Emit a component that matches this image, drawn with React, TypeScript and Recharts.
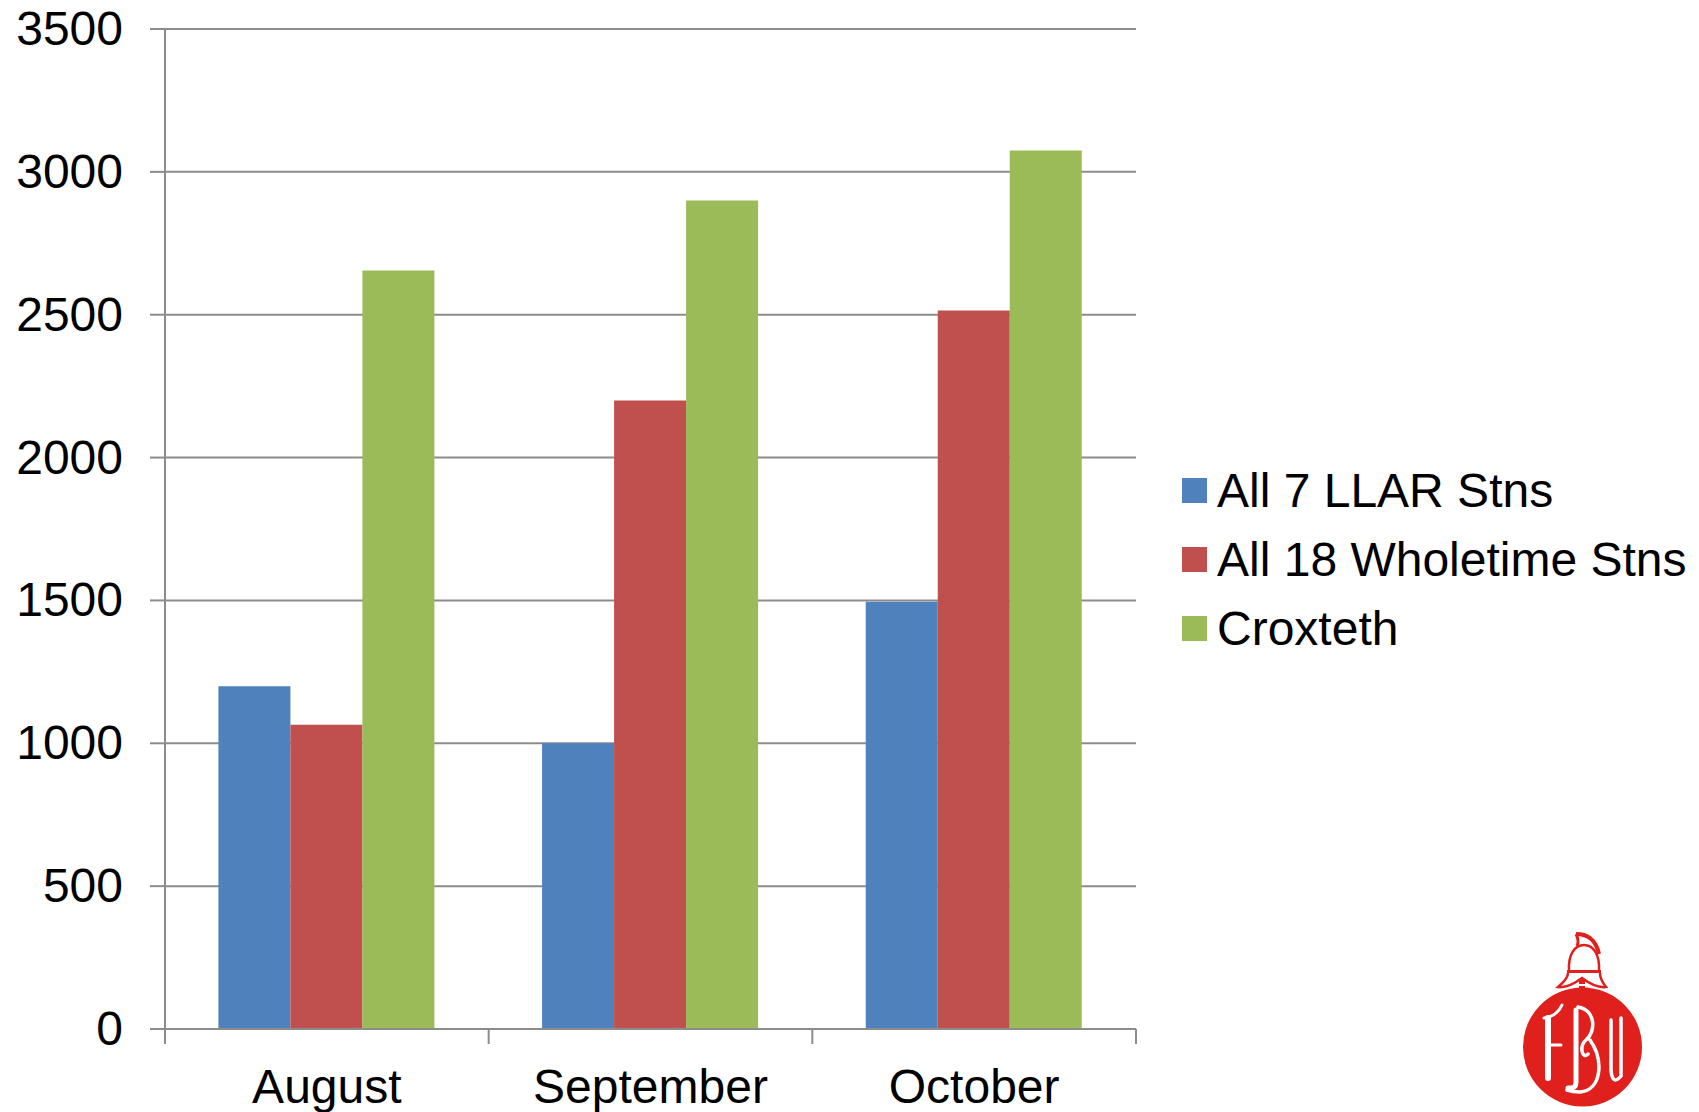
import React from "react";
import { BarChart, Bar, XAxis, YAxis, CartesianGrid, Legend } from "recharts";

const categories = ["August", "September", "October"];
const llar = [1200, 1000, 1495];
const wholetime = [1065, 2200, 2515];
const croxteth = [2655, 2900, 3075];
const yTicks = [0, 500, 1000, 1500, 2000, 2500, 3000, 3500];
const seriesNames = ["All 7 LLAR Stns", "All 18 Wholetime Stns", "Croxteth"];
const seriesColors = ["#4f81bd", "#c0504d", "#9bbb59"];

const rows = categories.map((month, i) => ({
  month,
  llar: llar[i],
  wholetime: wholetime[i],
  croxteth: croxteth[i],
}));

const FONT = '"Liberation Sans", Arial, sans-serif';
const GREY = "#8c8c8c";

function MonthTick(props: any) {
  const { x, y, payload, width, visibleTicksCount, index } = props;
  const band = width / visibleTicksCount;
  const last = index === visibleTicksCount - 1;
  return (
    <g>
      <line x1={x - band / 2} x2={x - band / 2} y1={y} y2={y + 15} stroke={GREY} strokeWidth={2} />
      {last && <line x1={x + band / 2} x2={x + band / 2} y1={y} y2={y + 15} stroke={GREY} strokeWidth={2} />}
      <text x={x} y={y + 74} textAnchor="middle" fontFamily={FONT} fontSize={48} fill="#000">
        {payload.value}
      </text>
    </g>
  );
}

function LegendBlock() {
  return (
    <div style={{ position: "relative", width: 517, height: 210 }}>
      {seriesNames.map((name, i) => (
        <div
          key={name}
          style={{ position: "absolute", left: 0, top: i * 69, height: 69, display: "flex", alignItems: "center", whiteSpace: "nowrap" }}
        >
          <span style={{ display: "inline-block", width: 25, height: 25, background: seriesColors[i], marginRight: 10 }} />
          <span style={{ fontFamily: FONT, fontSize: 48, color: "#000", lineHeight: "69px" }}>{name}</span>
        </div>
      ))}
    </div>
  );
}

function Logo() {
  const red = "#e0201c";
  return (
    <svg width={200} height={202} viewBox="0 0 200 202" style={{ position: "absolute", left: 1480, top: 910 }}>
      <path d="M96 24 C108 24 116 30 119 44" fill="none" stroke={red} strokeWidth={4} />
      <path d="M96 24 C98 28 99 32 97 36" fill="none" stroke={red} strokeWidth={3} />
      <path d="M89 61 C88 44 95 35 104 35 C113 35 120 44 119 61" fill="none" stroke={red} strokeWidth={2.5} />
      <rect x={87} y={60} width={34} height={3} fill={red} />
      <path
        d="M88 63 C88 68 84 72 78 77 C86 78 94 74 102 68 C110 74 118 78 126 77 C122 72 120 68 120 63"
        fill="#fff"
        stroke={red}
        strokeWidth={2.5}
      />
      <rect x={99} y={69} width={6} height={5} fill={red} />
      <rect x={99} y={76} width={6} height={5} fill={red} />
      <rect x={99} y={83} width={6} height={6} fill={red} />
      <circle cx={102.5} cy={137} r={59.5} fill={red} />
      <g fill="none" stroke="#fff" strokeLinecap="round">
        <path d="M68 168 L68 108" strokeWidth={6} />
        <path d="M64 108 C72 107 78 104 82 95" strokeWidth={3} />
        <path d="M68 135 L81 135" strokeWidth={3} />
        <path d="M88 178 L91 178 C94 178 96 176 96 172 L96 100" strokeWidth={5} />
        <path d="M98 97 C116 100 116 122 106 130 C99 136 102 150 108 144 M110 130 C124 150 122 180 100 182 C94 182 90 181 87 180" strokeWidth={3.5} />
        <path d="M131 110 L131 160 C132 172 136 172 141 166 L141 108" strokeWidth={3.5} />
      </g>
    </svg>
  );
}

export default function App() {
  return (
    <div style={{ position: "absolute", left: 0, top: 0, width: 1699, height: 1112, background: "#fff", overflow: "hidden" }}>
      <BarChart
        width={1699}
        height={1112}
        data={rows}
        margin={{ top: 29, right: 46, bottom: 0, left: 0 }}
        barCategoryGap="16.5%"
        barGap={0}
      >
        <CartesianGrid vertical={false} stroke={GREY} strokeWidth={2} />
        <XAxis
          dataKey="month"
          height={83}
          axisLine={{ stroke: GREY, strokeWidth: 2 }}
          tickLine={false}
          tickSize={0}
          tickMargin={0}
          interval={0}
          tick={<MonthTick />}
        />
        <YAxis
          width={165}
          domain={[0, 3500]}
          ticks={yTicks}
          interval={0}
          axisLine={{ stroke: GREY, strokeWidth: 2 }}
          tickLine={{ stroke: GREY, strokeWidth: 2 }}
          tickSize={15}
          tickMargin={27}
          tick={{ fontFamily: FONT, fontSize: 48, fill: "#000", dy: -1 }}
        />
        <Bar dataKey="llar" name={seriesNames[0]} fill={seriesColors[0]} isAnimationActive={false} />
        <Bar dataKey="wholetime" name={seriesNames[1]} fill={seriesColors[1]} isAnimationActive={false} />
        <Bar dataKey="croxteth" name={seriesNames[2]} fill={seriesColors[2]} isAnimationActive={false} />
        <Legend
          layout="vertical"
          align="right"
          verticalAlign="top"
          content={<LegendBlock />}
          wrapperStyle={{ position: "absolute", left: 1182, top: 456, width: 517, height: 210 }}
        />
      </BarChart>
      <Logo />
    </div>
  );
}
